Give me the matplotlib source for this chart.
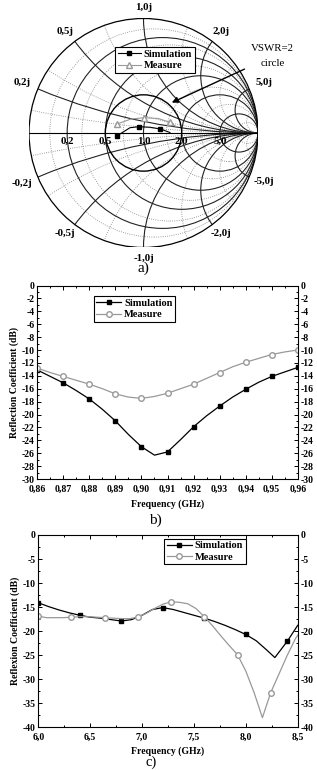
import numpy as np
import matplotlib
matplotlib.use('Agg')
from matplotlib import pyplot as plt
from matplotlib.patches import Circle
from matplotlib.ticker import MultipleLocator, FuncFormatter

plt.rcParams['font.family'] = ['Liberation Serif', 'DejaVu Serif']
plt.rcParams['axes.unicode_minus'] = False

# --- a) smith chart data (reflection coefficient, real / imag)
smith_sim_re = [-0.229, -0.118, -0.039, 0.057, 0.147, 0.231]
smith_sim_im = [-0.024, 0.046, 0.055, 0.050, 0.035, 0.004]
smith_meas_re = [-0.229, -0.109, 0.002, 0.127, 0.231, 0.284]
smith_meas_im = [0.079, 0.122, 0.133, 0.127, 0.093, 0.057]
r_main = [0.2, 0.5, 1.0, 2.0, 5.0]
r_minor = [0.1, 0.3, 0.7, 1.5, 3.0, 10.0]
x_minor = [0.1, 0.3, 0.7, 1.5, 3.0, 10.0]
r_labels = ['0,2', '0,5', '1,0', '2,0', '5,0']

# --- b) 0.86 - 0.96 GHz
freq_b = [0.860, 0.865, 0.870, 0.875, 0.880, 0.885, 0.890, 0.895, 0.900, 0.905, 0.910,
          0.915, 0.920, 0.925, 0.930, 0.935, 0.940, 0.945, 0.950, 0.955, 0.960]
sim_b = [-13.1, -14.1, -15.1, -16.3, -17.6, -19.2, -21.0, -23.1, -25.0, -26.3, -25.8,
         -23.9, -21.9, -20.2, -18.7, -17.3, -16.1, -15.0, -14.1, -13.4, -12.7]
meas_b = [-12.8, -13.5, -14.1, -14.7, -15.3, -16.0, -16.8, -17.3, -17.5, -17.2, -16.7,
          -16.0, -15.3, -14.4, -13.5, -12.6, -11.9, -11.3, -10.7, -10.3, -10.0]

# --- c) 6.0 - 8.5 GHz
freq_c_sim = [6.0, 6.1, 6.2, 6.3, 6.4, 6.5, 6.6, 6.7, 6.8, 6.9, 7.0, 7.1, 7.2,
              7.3, 7.4, 7.5, 7.6, 7.7, 7.8, 7.9, 8.0, 8.1, 8.2, 8.28, 8.4, 8.5]
sim_c = [-14.1, -14.9, -15.6, -16.2, -16.7, -17.1, -17.3, -17.6, -17.9, -17.6, -16.7,
         -15.5, -15.1, -15.5, -16.1, -16.7, -17.3, -18.0, -18.8, -19.7, -20.7, -22.0,
         -23.9, -25.5, -22.1, -18.8]
freq_c_meas = [6.00, 6.08, 6.16, 6.24, 6.32, 6.40, 6.48, 6.56, 6.64, 6.72, 6.80, 6.88,
               6.96, 7.04, 7.12, 7.20, 7.28, 7.36, 7.44, 7.52, 7.60, 7.68, 7.76, 7.84,
               7.92, 8.00, 8.08, 8.16, 8.24, 8.32, 8.40, 8.48, 8.56]
meas_c = [-16.9, -17.2, -17.2, -17.2, -17.1, -17.0, -17.0, -17.1, -17.2, -17.3, -17.4,
          -17.4, -17.1, -16.3, -15.3, -14.4, -13.9, -14.0, -14.3, -15.3, -17.0, -18.9,
          -21.0, -23.0, -24.9, -28.3, -32.8, -38.0, -32.8, -28.9, -25.0, -21.5, -19.0]

fig = plt.figure(figsize=(3.17, 7.7), dpi=100)

# ================= a) smith chart =================
ax = fig.add_axes([0.0915, 0.6786, 0.7224, 0.2974])
ax.set_xlim(-1, 1)
ax.set_ylim(-1, 1)
ax.axis('off')

unit = Circle((0, 0), 1, transform=ax.transData)

def add_circle(c, rad, ls, lw, col):
    p = Circle(c, rad, fill=False, ls=ls, lw=lw, ec=col)
    ax.add_patch(p)
    p.set_clip_path(unit)

for r in r_minor:
    add_circle((r / (1 + r), 0), 1 / (1 + r), ':', 0.6, '#808080')
for x in x_minor:
    add_circle((1, 1 / x), 1 / x, ':', 0.6, '#808080')
    add_circle((1, -1 / x), 1 / x, ':', 0.6, '#808080')
for r in r_main:
    add_circle((r / (1 + r), 0), 1 / (1 + r), '-', 0.8, '#222222')
for x in r_main:
    add_circle((1, 1 / x), 1 / x, '-', 0.8, '#222222')
    add_circle((1, -1 / x), 1 / x, '-', 0.8, '#222222')
# VSWR = 2 circle
add_circle((0, 0), 1 / 3, '-', 1.0, 'black')
ax.add_patch(Circle((0, 0), 1, fill=False, lw=0.9, ec='black'))
ax.plot([-1, 1], [0, 0], color='black', lw=0.8)

fs = 7.8
for r, lab in zip(r_main, r_labels):
    ax.text((r - 1) / (r + 1), -0.07, lab, ha='center', va='center', fontsize=fs,
            fontweight='bold')
label_pos = {'1,0j': (0, 1.092), '0,5j': (-0.686, 0.882), '2,0j': (0.677, 0.882),
             '0,2j': (-1.061, 0.437), '5,0j': (1.055, 0.437)}
for lab, (px, py) in label_pos.items():
    ax.text(px, py, lab, ha='center', va='center', fontsize=fs, fontweight='bold')
    ax.text(px, -py + (0.017 if lab == '5,0j' else 0.0), '-' + lab, ha='center', va='center',
            fontsize=fs, fontweight='bold')

ax.plot(smith_sim_re, smith_sim_im, color='black', lw=0.8, marker='s', ms=3.5,
        markevery=[0, 2, 4], label='Simulation')
ax.plot(smith_meas_re, smith_meas_im, color='#999999', lw=0.8, marker='^', ms=4.5,
        mfc='white', mec='#999999', markevery=[0, 2, 4], label='Measure')

ax.annotate('', xy=(0.225, 0.255), xytext=(0.904, 0.568),
            arrowprops=dict(arrowstyle='-|>', color='black', lw=1.0, mutation_scale=9))
ax.text(1.125, 0.735, 'VSWR=2', ha='center', va='center', fontsize=7.8)
ax.text(1.125, 0.61, 'circle', ha='center', va='center', fontsize=7.8)
ax.text(0, -1.18, 'a)', ha='center', va='center', fontsize=11)

leg = ax.legend(loc='upper left', bbox_to_anchor=(0.3628, 0.939), bbox_transform=fig.transFigure,
                fancybox=False, edgecolor='black', framealpha=1, borderpad=0.25,
                handlelength=2.2, handletextpad=0.3, labelspacing=0.2, borderaxespad=0,
                prop={'size': 7.5, 'weight': 'bold'})
leg.get_frame().set_linewidth(0.8)


# ================= b) and c) =================
def style_axes(a):
    a.tick_params(which='both', direction='in', top=True, right=True, labelright=True,
                  labelsize=7, width=0.7, pad=2)
    a.tick_params(axis='x', which='both', pad=4)
    a.tick_params(which='major', length=3)
    a.tick_params(which='minor', length=1.7)
    for lab in a.get_xticklabels() + a.get_yticklabels():
        lab.set_fontweight('bold')
    for s in a.spines.values():
        s.set_linewidth(0.8)

comma1 = FuncFormatter(lambda v, p: ('%.1f' % v).replace('.', ','))
comma2 = FuncFormatter(lambda v, p: ('%.2f' % v).replace('.', ','))
intfmt = FuncFormatter(lambda v, p: '%d' % round(v))

axb = fig.add_axes([0.1177, 0.3779, 0.8215, 0.2513])
axb.plot(freq_b, sim_b, color='black', lw=0.9, marker='s', ms=3.5, markevery=2,
         label='Simulation')
axb.plot(freq_b, meas_b, color='#999999', lw=0.9, marker='o', ms=4, mfc='white',
         mec='#999999', markevery=2, label='Measure')
axb.set_xlim(0.86, 0.96)
axb.set_ylim(-30, 0)
axb.xaxis.set_major_locator(MultipleLocator(0.01))
axb.xaxis.set_minor_locator(MultipleLocator(0.005))
axb.yaxis.set_major_locator(MultipleLocator(2))
axb.yaxis.set_minor_locator(MultipleLocator(1))
axb.xaxis.set_major_formatter(comma2)
axb.yaxis.set_major_formatter(intfmt)
axb.set_xlabel('Frequency (GHz)', fontsize=7, fontweight='bold', labelpad=4)
axb.set_ylabel('Reflection Coefficient (dB)', fontsize=7, fontweight='bold', labelpad=2)
style_axes(axb)
legb = axb.legend(loc='upper left', bbox_to_anchor=(0.295, 0.6156),
                  bbox_transform=fig.transFigure, fancybox=False, edgecolor='black',
                  framealpha=1, borderpad=0.25, handlelength=2.4, handletextpad=0.3,
                  labelspacing=0.2, borderaxespad=0, prop={'size': 7.5, 'weight': 'bold'})
legb.get_frame().set_linewidth(0.8)
fig.text(0.49, 1 - 520 / 770, 'b)', ha='center', va='center', fontsize=11)

axc = fig.add_axes([0.1208, 0.0555, 0.8183, 0.2497])
axc.plot(freq_c_sim, sim_c, color='black', lw=0.9, marker='s', ms=3.5,
         markevery=[0, 4, 8, 12, 16, 20, 24], label='Simulation')
axc.plot(freq_c_meas, meas_c, color='#999999', lw=0.9, marker='o', ms=4, mfc='white',
         mec='#999999', markevery=4, label='Measure')
axc.set_xlim(6.0, 8.5)
axc.set_ylim(-40, 0)
axc.xaxis.set_major_locator(MultipleLocator(0.5))
axc.xaxis.set_minor_locator(MultipleLocator(0.25))
axc.yaxis.set_major_locator(MultipleLocator(5))
axc.yaxis.set_minor_locator(MultipleLocator(2.5))
axc.xaxis.set_major_formatter(comma1)
axc.yaxis.set_major_formatter(intfmt)
axc.set_xlabel('Frequency (GHz)', fontsize=7, fontweight='bold', labelpad=3)
axc.set_ylabel('Reflexion Coefficient (dB)', fontsize=7, fontweight='bold', labelpad=2)
style_axes(axc)
legc = axc.legend(loc='upper left', bbox_to_anchor=(0.5174, 0.3006),
                  bbox_transform=fig.transFigure, fancybox=False, edgecolor='black',
                  framealpha=1, borderpad=0.25, handlelength=2.4, handletextpad=0.3,
                  labelspacing=0.2, borderaxespad=0, prop={'size': 7.5, 'weight': 'bold'})
legc.get_frame().set_linewidth(0.8)
fig.text(0.478, 1 - 762 / 770, 'c)', ha='center', va='center', fontsize=10.5)

fig.savefig('out.png', dpi=100)
